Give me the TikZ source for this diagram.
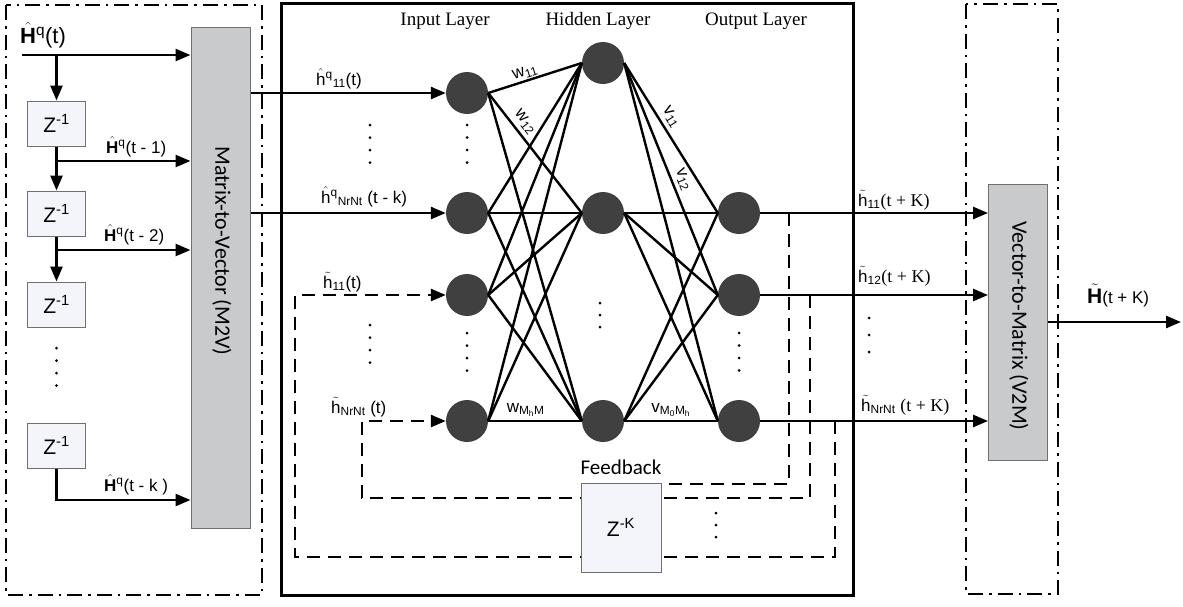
\documentclass[tikz,border=0pt]{standalone}
\usepackage{amsmath}
\usepackage{fontspec}
\setmainfont{Liberation Sans}
\newfontfamily\calfont{Carlito}
\newfontfamily\serfont{Liberation Serif}
\usepackage{tikz}
\usetikzlibrary{arrows.meta,positioning,calc}
\definecolor{cNeuron}{HTML}{404040}
\definecolor{cConv}{HTML}{C9CACC}
\definecolor{cDelay}{HTML}{F3F5FA}
\definecolor{cEdge}{HTML}{707070}
\newcommand{\fsz}[1]{\fontsize{#1}{#1}\selectfont}
\newcommand{\Hhat}{$\hat{\textbf{H}}$}
\newcommand{\Htil}{$\tilde{\textbf{H}}$}
\newcommand{\hhat}{$\hat{\text{h}}$}
\newcommand{\htil}{$\tilde{\text{h}}$}
\tikzset{
  neuron/.style   ={circle, fill=cNeuron, minimum size=42pt, inner sep=0pt},
  conv/.style     ={rectangle, draw=cEdge, fill=cConv, line width=1pt,
                    minimum width=59pt, inner sep=0pt},
  conv text/.style={font=\calfont\fsz{22}, rotate=-90, inner sep=0pt},
  delay/.style    ={rectangle, draw=cEdge, fill=cDelay, line width=1pt, minimum width=58pt,
                    minimum height=45pt, inner sep=0pt, font=\fsz{21}},
  fl/.style       ={-{Triangle[length=15pt,width=12pt]}, line width=2.6pt},
  syn/.style      ={line width=2.4pt},
  fb/.style       ={line width=2.6pt, dash pattern=on 13pt off 8pt},
  frame/.style    ={line width=2.6pt, dash pattern=on 15pt off 6pt on 2.6pt off 6pt},
  lbl/.style      ={font=\fsz{17}, inner sep=0pt, anchor=base west},
  wlbl/.style     ={font=\fsz{17}, inner sep=0pt, sloped},
  layer/.style    ={font=\serfont\fsz{19}, inner sep=0pt},
}

\begin{document}
\begin{tikzpicture}[x=1pt,y=-1pt]
  \useasboundingbox (0,0) rectangle (1183,606);
  \draw[frame] (6,5) rectangle (262,595);
  \draw[line width=3pt] (281,3) rectangle (853,595);
  \draw[frame] (966,4) rectangle (1058,594);
  \node[conv,minimum height=501pt] (m2v) at (220.5,277.5) {};
  \node[conv text] (m2vt) at (222,251) {Matrix-to-Vector (M2V)};
  \node[conv,minimum height=276pt] (v2m) at (1018,322) {};
  \node[conv text] (v2mt) at (1019,326) {Vector-to-Matrix (V2M)};
  \node[delay] (z1) at (56.5,123.5) {Z\textsuperscript{-1}};
  \node[delay,below=44pt of z1] (z2) {Z\textsuperscript{-1}};
  \node[delay,below=45pt of z2] (z3) {Z\textsuperscript{-1}};
  \node[delay] (z4) at (56.5,445.5) {Z\textsuperscript{-1}};
  \coordinate (hin) at (22,55);\coordinate (b1) at (56.5,161);
  \coordinate (b2) at (56.5,250);\coordinate (b4) at (56.5,500);
  \draw[fl](hin)--(hin -| m2v.west);\draw[fl](hin -| z1)--(z1);
  \draw[fl](z1)--(z2);\draw[fl](z2)--(z3);
  \draw[fl](b1)--(b1 -| m2v.west);\draw[fl](b2)--(b2 -| m2v.west);
  \draw[fl](z4)--(b4)--(b4 -| m2v.west);
  \node[lbl,font=\fsz{22}] (lh0) at (20,43) {\Hhat\textsuperscript{q}(t)};
  \node[lbl] (lh1) at (106,153) {\Hhat\textsuperscript{q}(t - 1)};
  \node[lbl] (lh2) at (104,241) {\Hhat\textsuperscript{q}(t - 2)};
  \node[lbl] (lhk) at (104,491) {\Hhat\textsuperscript{q}(t - k )};
  \foreach \y in {348,360.5,373,385.5} \fill (56.5,\y) circle (1.5pt);

  \node[layer] (tin) at (445,21) {Input Layer};
  \node[layer] (thid) at (598,21) {Hidden Layer};
  \node[layer] (tout) at (756,21) {Output Layer};
  \foreach \n/\y in {1/93,2/213,3/295,4/421} \node[neuron] (i\n) at (467,\y) {};
  \foreach \n/\y in {1/63,2/213,3/421} \node[neuron] (h\n) at (603,\y) {};
  \foreach \n/\y in {1/213,2/295,3/421} \node[neuron] (o\n) at (739,\y) {};
  \foreach \a in {1,...,4} \foreach \b in {1,2,3} \draw[syn] (i\a.east)--(h\b.west);
  \foreach \a in {1,2,3} \foreach \b in {1,2,3} \draw[syn] (h\a.east)--(o\b.west);
  \path (i1.east)--(h1.west) node[wlbl,pos=0.42,above=2pt] (w11) {w\textsubscript{11}};
  \path (i1.east)--(h2.west) node[wlbl,pos=0.3,above=5pt] (w12) {w\textsubscript{12}};
  \path (h1.east)--(o1.west) node[wlbl,pos=0.4,above=5pt] (v11) {v\textsubscript{11}};
  \path (h1.east)--(o2.west) node[wlbl,pos=0.52,above=5pt] (v12) {v\textsubscript{12}};
  \path (i4.east)--(h3.west) node[wlbl,pos=0.4,above=4pt] (wmm) {w\textsubscript{M\textsubscript{h}M}};
  \path (h3.east)--(o3.west) node[wlbl,pos=0.5,above=4pt] (vmm) {v\textsubscript{M\textsubscript{0}M\textsubscript{h}}};

  \draw[fl](m2v.east |- i1)--(i1);\draw[fl](m2v.east |- i2)--(i2);
  \node[lbl] (li1) at (316,85) {\hhat\textsuperscript{q}\textsubscript{11}(t)};
  \node[lbl] (li2) at (321,203) {\hhat\textsuperscript{q}\textsubscript{NrNt} (t - k)};
  \node[lbl] (li3) at (323,288) {\htil\textsubscript{11}(t)};
  \node[lbl] (li4) at (331,413) {\htil\textsubscript{NrNt} (t)};
  \foreach \y in {125,137.5,150,162.5} {\fill (370,\y) circle (1.5pt);\fill (467,\y) circle (1.5pt);}
  \foreach \y in {325,337.5,350,362.5} \fill (370,\y) circle (1.5pt);
  \foreach \y in {333,345.5,358,370.5} {\fill (467,\y) circle (1.5pt);\fill (739,\y) circle (1.5pt);}
  \foreach \y in {303,315,327} \fill (600,\y) circle (1.5pt);
  \foreach \y in {318,335,352} \fill (869,\y) circle (1.5pt);
  \foreach \y in {513,525,537} \fill (716,\y) circle (1.5pt);

  \coordinate (f2a) at (810,295);\coordinate (f2b) at (810,498);
  \coordinate (f2c) at (362,498);\coordinate (f2d) at (362,421);
  \coordinate (f3a) at (835,421);\coordinate (f3b) at (835,557);
  \coordinate (f3c) at (295,557);\coordinate (f3d) at (295,295);
  \draw[fb,-{Triangle[length=15pt,width=12pt]}](f2a)--(f2b)--(f2c)--(f2d)--(i4);
  \draw[fb,-{Triangle[length=15pt,width=12pt]}](f3a)--(f3b)--(f3c)--(f3d)--(i3);
  \node[delay,minimum width=80pt,minimum height=89pt] (zk) at (621,527.5) {Z\textsuperscript{-K}};
  \node[font=\calfont\fsz{21},inner sep=0pt,above=8pt of zk] (fbk) {Feedback};
  \coordinate (f1a) at (789,213);\coordinate (f1b) at (789,484);
  \draw[fb](f1a)--(f1b)--(f1b -| zk.east);

  \foreach \n in {1,2,3} \draw[fl](o\n)--(o\n -| v2m.west);
  \coordinate (hout) at (1181,322);
  \draw[fl](v2m.east)--(hout);
  \node[lbl] (lo1) at (858,206) {\htil\textsubscript{11}{\serfont\fsz{18}(t + K)}};
  \node[lbl] (lo2) at (858,282) {\htil\textsubscript{12}{\serfont\fsz{18}(t + K)}};
  \node[lbl] (lo3) at (861,411) {\htil\textsubscript{NrNt} {\serfont\fsz{18}(t + K)}};
  \node[lbl,font=\fsz{21}] (lout) at (1087,303) {\Htil{\fsz{17}(t + K)}};
\end{tikzpicture}
\end{document}
